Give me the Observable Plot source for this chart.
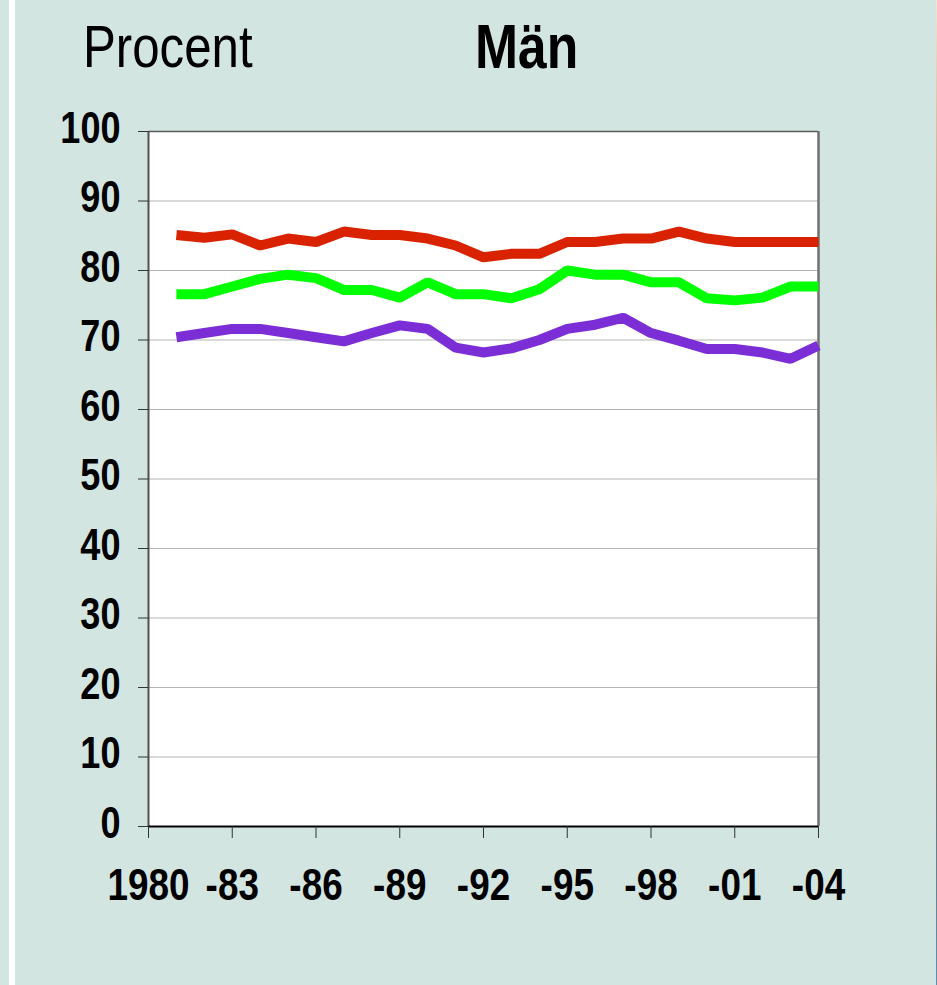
<!DOCTYPE html>
<html>
<head>
<meta charset="utf-8">
<script src="https://cdn.jsdelivr.net/npm/d3@7"></script>
<script src="https://cdn.jsdelivr.net/npm/@observablehq/plot@0.6"></script>
<style>
  html, body { margin: 0; padding: 0; background: #d3e5e1; }
  #page { position: relative; width: 937px; height: 985px; overflow: hidden; background: #d3e5e1; }
  #edge { position: absolute; left: 9px; top: 0; width: 6px; height: 985px; background: #ffffff; }
  #rstrip { position: absolute; left: 936px; top: 0; width: 1px; height: 985px; background: linear-gradient(#f3e6d2, #b9876a 30%, #e7d6bc 50%, #7a6a58 70%, #5d8fb0 100%); }
  .t { position: absolute; font-family: "Liberation Sans", Arial, sans-serif; color: #000; white-space: nowrap; line-height: 1; transform: scaleX(0.82); transform-origin: 0 0; }
  #ylab { left: 83px; top: 17px; font-size: 60px; font-weight: normal; }
  #title { left: 475px; top: 15px; font-size: 63px; font-weight: bold; }
  #chart { position: absolute; left: 0; top: 100px; }
</style>
</head>
<body>
<div id="page">
  <div id="edge"></div>
  <div id="rstrip"></div>
  <div class="t" id="ylab">Procent</div>
  <div class="t" id="title">Män</div>
  <div id="chart"></div>
</div>
<script>
// ---- data ----
const years = [1981,1982,1983,1984,1985,1986,1987,1988,1989,1990,1991,1992,1993,1994,1995,1996,1997,1998,1999,2000,2001,2002,2003,2004];
const redSeries    = [85.1,84.7,85.2,83.6,84.6,84.1,85.6,85.1,85.1,84.6,83.6,81.9,82.4,82.4,84.1,84.1,84.6,84.6,85.6,84.6,84.1,84.1,84.1,84.1];
const greenSeries  = [76.6,76.6,77.7,78.8,79.4,78.9,77.2,77.2,76.1,78.3,76.6,76.6,76.0,77.3,80.0,79.4,79.4,78.3,78.3,76.0,75.7,76.1,77.7,77.7];
const purpleSeries = [70.4,71.0,71.6,71.6,71.0,70.4,69.8,71.0,72.1,71.6,68.9,68.2,68.8,70.0,71.6,72.2,73.2,71.0,69.9,68.7,68.7,68.2,67.3,69.2];
const xTicks = [1980,1983,1986,1989,1992,1995,1998,2001,2004];
const yTicks = [0,10,20,30,40,50,60,70,80,90,100];
const seriesColors = ["#d92200", "#00ff00", "#7b2dd6"];

const table = [];
[redSeries, greenSeries, purpleSeries].forEach((vals, k) => {
  vals.forEach((v, i) => table.push({year: years[i], value: v, s: k}));
});

const fmtX = d => d === 1980 ? "1980" : "-" + String(d).slice(2);
const font = '"Liberation Sans", Arial, sans-serif';

const chart = Plot.plot({
  width: 937,
  height: 885,
  marginLeft: 148,
  marginRight: 119,
  marginTop: 31,
  marginBottom: 159,
  style: {background: "transparent", fontFamily: font, overflow: "visible"},
  x: {domain: [1980, 2004], axis: null},
  y: {domain: [0, 100], axis: null},
  marks: [
    Plot.frame({fill: "white", stroke: "none"}),
    Plot.ruleY(yTicks.filter(d => d > 0 && d < 100), {stroke: "#b4b4b4", strokeWidth: 1.2}),
    Plot.ruleY([100], {stroke: "#5a5a5a", strokeWidth: 1.5}),
    Plot.ruleX([2004], {y1: 0, y2: 100, stroke: "#707070", strokeWidth: 2.5}),
    Plot.line(table.filter(d => d.s === 0), {x: "year", y: "value", stroke: seriesColors[0], strokeWidth: 10, strokeLinecap: "butt", strokeLinejoin: "miter"}),
    Plot.line(table.filter(d => d.s === 1), {x: "year", y: "value", stroke: seriesColors[1], strokeWidth: 10, strokeLinecap: "butt", strokeLinejoin: "miter"}),
    Plot.line(table.filter(d => d.s === 2), {x: "year", y: "value", stroke: seriesColors[2], strokeWidth: 10, strokeLinecap: "butt", strokeLinejoin: "miter"}),
    Plot.ruleX([1980], {y1: 0, y2: 100, stroke: "#505050", strokeWidth: 2}),
    Plot.ruleY([0], {stroke: "#000", strokeWidth: 2}),
    // tick marks
    Plot.axisY({ticks: yTicks, label: null, tickSize: 10, stroke: "#333", tickFormat: () => ""}),
    // tick labels (slightly raised, like the reference)
    Plot.axisY({ticks: yTicks, label: null, tickSize: 0, tickPadding: 28, fontSize: 44, fontWeight: "bold", dy: -3, tickFormat: d => String(d)}),
    Plot.axisX({ticks: xTicks, label: null, tickSize: 12, tickPadding: 30, fontSize: 45, fontWeight: "bold", stroke: "#333", tickFormat: fmtX})
  ]
});
// emulate a narrow face: squeeze each label horizontally around its anchor
chart.querySelectorAll("text").forEach(t => {
  const tr = t.getAttribute("transform") || "";
  t.setAttribute("transform", `${tr} scale(0.82,1)`);
});
document.getElementById("chart").appendChild(chart);
</script>
</body>
</html>
